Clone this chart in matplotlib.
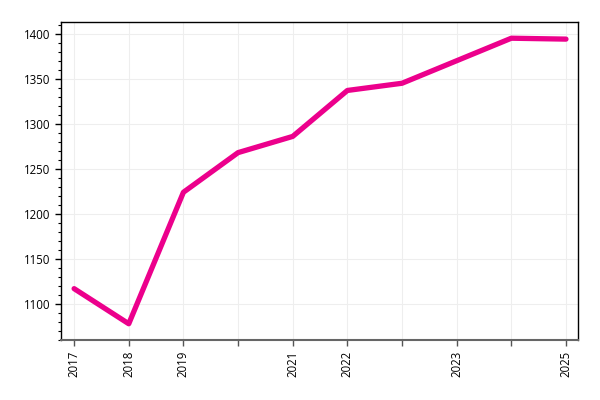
import matplotlib
matplotlib.use("Agg")
from matplotlib import pyplot as plt
from matplotlib.ticker import MultipleLocator
import numpy as np

# data
tick_labels = ["2017", "2018", "2019", "", "2021", "2022", "", "2023", "", "2025"]
values = [1117, 1078, 1224, 1268, 1286, 1337, 1345, 1370, 1395, 1394]

plt.rcParams['font.family'] = ['Open Sans', 'DejaVu Sans']

fig = plt.figure(figsize=(6, 4), dpi=100)
ax = fig.add_axes([61 / 600, 60 / 400, 517 / 600, 318 / 400])

x = np.arange(len(values))
ax.plot(x, values, color='#EC008C', linewidth=3.8, solid_capstyle='round',
        solid_joinstyle='round', zorder=3)

ax.set_xlim(-0.24, 9.22)
ax.set_ylim(1060, 1413)
ax.set_xticks(x)
ax.set_xticklabels(tick_labels, rotation=90, fontsize=8.3)
ax.yaxis.set_major_locator(MultipleLocator(50))
ax.yaxis.set_minor_locator(MultipleLocator(10))
ax.tick_params(axis='y', labelsize=8.3, direction='out', length=4, width=1)
ax.tick_params(axis='y', which='minor', length=2.5, width=0.8)
ax.tick_params(axis='x', direction='out', length=4, width=1, colors='#555555',
               labelcolor='black')

ax.grid(True, color='#eeeeee', linewidth=0.8, zorder=0)
for side in ['top', 'right', 'left']:
    ax.spines[side].set_color('black')
    ax.spines[side].set_linewidth(1)
ax.spines['bottom'].set_color('#666666')
ax.spines['bottom'].set_linewidth(1.5)

fig.savefig('out.png', dpi=100)
